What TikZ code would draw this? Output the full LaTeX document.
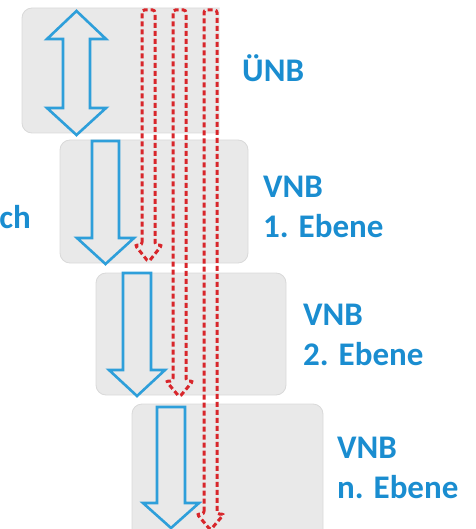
\documentclass[tikz,border=0pt]{standalone}
\usepackage{fontspec}
\setmainfont{Carlito}
\definecolor{boxgray}{HTML}{E9E9E9}
\definecolor{boxedge}{HTML}{D9D9D9}
\definecolor{arrowblue}{HTML}{2E9FDA}
\definecolor{textblue}{HTML}{1A8DD0}
\definecolor{arrowred}{HTML}{D8262B}
\tikzset{
  box/.style={fill=boxgray, draw=boxedge, line width=0.8pt, rounded corners=10pt},
  bluearrow/.style={draw=arrowblue, line width=2.6pt, line join=miter},
  redarrow/.style={draw=arrowred, line width=3pt, dash pattern=on 5pt off 3pt},
  lab/.style={text=textblue, font=\bfseries\fontsize{33}{40}\selectfont, anchor=base west, inner sep=0pt}
}
\begin{document}
\begin{tikzpicture}[x=1pt,y=-1pt]
\useasboundingbox (0,0) rectangle (475,529);
\begin{scope}
\clip (0,0) rectangle (475,529);
% boxes
\begin{scope}
\clip (0,0) rectangle (219.5,140);
\draw[box] (22,8) rectangle (245,133);
\end{scope}
\draw[box] (60,140) rectangle (248,263);
\draw[box] (96,273) rectangle (286,395);
\draw[box] (132,404) rectangle (323,545);
% blue arrows
\draw[bluearrow] (76.5,11) -- (106,39) -- (90,39) -- (90,108) -- (106,108) -- (76.5,135) -- (47,108) -- (63,108) -- (63,39) -- (47,39) -- cycle;
\draw[bluearrow] (92,141) -- (119,141) -- (119,238) -- (134,238) -- (105.5,264) -- (77,238) -- (92,238) -- cycle;
\draw[bluearrow] (123,273) -- (151,273) -- (151,370) -- (165,370) -- (137,396) -- (109,370) -- (123,370) -- cycle;
\draw[bluearrow] (157,407) -- (185,407) -- (185,503) -- (199,503) -- (171,528) -- (143,503) -- (157,503) -- cycle;
% red dashed arrows
\draw[redarrow, rounded corners=2.5pt] (142,245) -- (142,10) -- (155,10) -- (155,245) -- (162,245) -- (148.5,262) -- (135,245) -- cycle;
\draw[redarrow, rounded corners=2.5pt] (173,381) -- (173,10) -- (186,10) -- (186,381) -- (193,381) -- (179.5,397) -- (166,381) -- cycle;
\draw[redarrow, rounded corners=2.5pt] (204,514) -- (204,10) -- (217,10) -- (217,514) -- (224,514) -- (210.5,530) -- (197,514) -- cycle;
\end{scope}
% labels
\node[lab] (unb) at (242,82) {ÜNB};
\node[lab] (v1a) at (263,197) {VNB};
\node[lab] (v1b) at (263,237) {1. Ebene};
\node[lab] (v2a) at (303,325) {VNB};
\node[lab] (v2b) at (303,365) {2. Ebene};
\node[lab] (vna) at (337,458) {VNB};
\node[lab] (vnb) at (337,498) {n. Ebene};
\node[lab, anchor=base east] (ch) at (31,228) {ch};
\end{tikzpicture}
\end{document}
